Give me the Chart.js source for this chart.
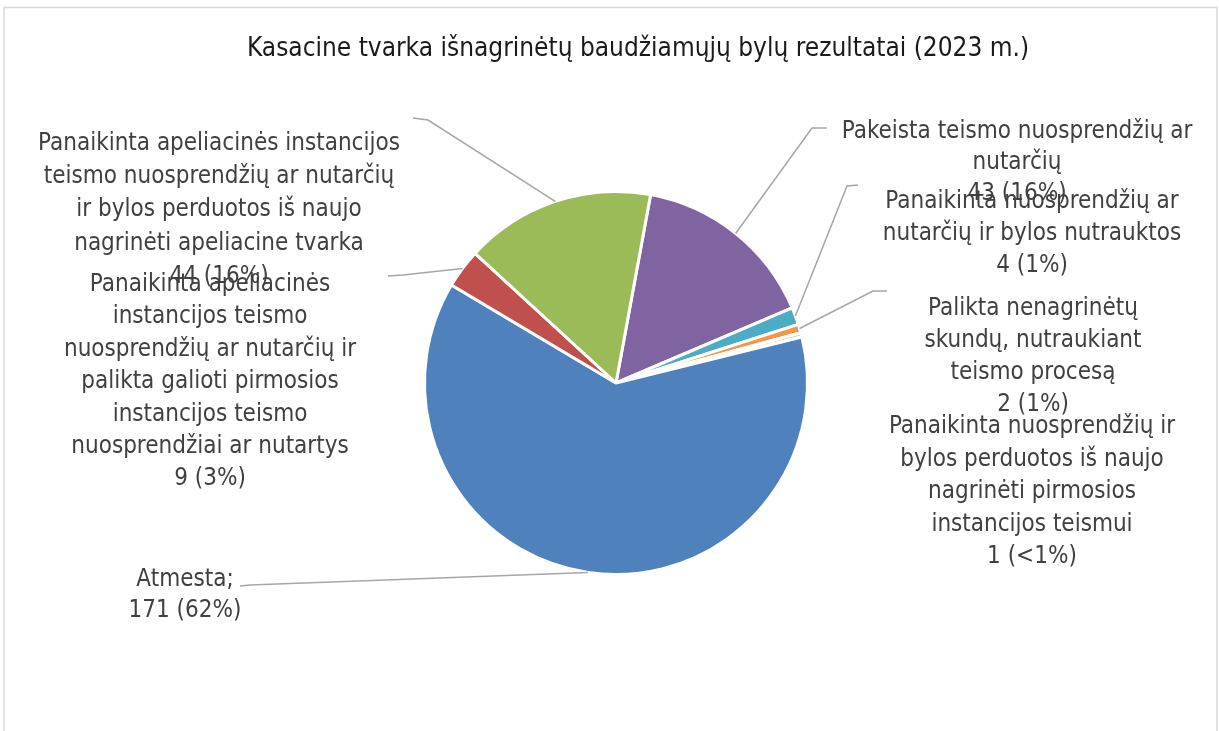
<!DOCTYPE html>
<html>
<head>
<meta charset="utf-8">
<script src="https://cdn.jsdelivr.net/npm/chart.js@4"></script>
<style>
html,body{margin:0;padding:0;background:#fff;}
canvas{display:block;}
</style>
</head>
<body>
<canvas id="c" width="1219" height="731"></canvas>
<script>
const TITLE = 'Kasacine tvarka išnagrinėtų baudžiamųjų bylų rezultatai (2023 m.)';
const categories = [
  'Pakeista teismo nuosprendžių ar nutarčių',
  'Panaikinta nuosprendžių ar nutarčių ir bylos nutrauktos',
  'Palikta nenagrinėtų skundų, nutraukiant teismo procesą',
  'Panaikinta nuosprendžių ir bylos perduotos iš naujo nagrinėti pirmosios instancijos teismui',
  'Atmesta',
  'Panaikinta apeliacinės instancijos teismo nuosprendžių ar nutarčių ir palikta galioti pirmosios instancijos teismo nuosprendžiai ar nutartys',
  'Panaikinta apeliacinės instancijos teismo nuosprendžių ar nutarčių ir bylos perduotos iš naujo nagrinėti apeliacine tvarka'
];
const values = [43, 4, 2, 1, 171, 9, 44];
const percentLabels = ['16%', '1%', '1%', '<1%', '62%', '3%', '16%'];
const labelLines = [
  ['Pakeista teismo nuosprendžių ar', 'nutarčių'],
  ['Panaikinta nuosprendžių ar', 'nutarčių ir bylos nutrauktos'],
  ['Palikta nenagrinėtų', 'skundų, nutraukiant', 'teismo procesą'],
  ['Panaikinta nuosprendžių ir', 'bylos perduotos iš naujo', 'nagrinėti pirmosios', 'instancijos teismui'],
  ['Atmesta;'],
  ['Panaikinta apeliacinės', 'instancijos teismo', 'nuosprendžių ar nutarčių ir', 'palikta galioti pirmosios', 'instancijos teismo', 'nuosprendžiai ar nutartys'],
  ['Panaikinta apeliacinės instancijos', 'teismo nuosprendžių ar nutarčių', 'ir bylos perduotos iš naujo', 'nagrinėti apeliacine tvarka']
];
const colors = ['#8064A2', '#4BACC6', '#F79646', '#C6D9F1', '#4F81BD', '#C0504D', '#9BBB59'];

// layout of label blocks: center x, first baseline y, line height
const labelPos = [
  {x: 1017, y: 138, lh: 31}, {x: 1032, y: 208, lh: 32}, {x: 1033, y: 315, lh: 32}, {x: 1032, y: 433, lh: 32.5},
  {x: 185, y: 586, lh: 31}, {x: 210, y: 291, lh: 32.4}, {x: 219, y: 150, lh: 33.2}
];
// leader line bend + end points (layout), null = no leader
const leaders = [
  [[812, 128], [827, 128]],
  [[847, 186], [858, 185]],
  [[873, 291], [887, 291]],
  null,
  [[250, 585], [240, 586]],
  [[403, 275], [388, 276]],
  [[428, 120], [413, 118]]
];
const FONT_FAMILY = '"Liberation Sans Narrow", "DejaVu Sans Condensed", "Liberation Sans", sans-serif';

const labelsPlugin = {
  id: 'excelLabels',
  beforeDraw(chart) {
    const ctx = chart.ctx;
    ctx.save();
    ctx.fillStyle = '#ffffff';
    ctx.fillRect(0, 0, chart.width, chart.height);
    ctx.strokeStyle = '#d9d9d9';
    ctx.lineWidth = 1.5;
    ctx.strokeRect(4, 7.5, 1213, 740);
    ctx.restore();
  },
  afterDraw(chart) {
    const ctx = chart.ctx;
    const meta = chart.getDatasetMeta(0);
    ctx.save();
    // title
    ctx.fillStyle = '#1a1a1a';
    ctx.font = '26px ' + FONT_FAMILY;
    ctx.textAlign = 'center';
    ctx.textBaseline = 'alphabetic';
    ctx.fillText(TITLE, 638, 56);
    // leader lines
    ctx.strokeStyle = '#a6a6a6';
    ctx.lineWidth = 1.5;
    meta.data.forEach((arc, i) => {
      const L = leaders[i];
      if (!L) return;
      const p = arc.getProps(['x', 'y', 'startAngle', 'endAngle', 'outerRadius'], true);
      const mid = (p.startAngle + p.endAngle) / 2;
      const r = p.outerRadius;
      const sx = p.x + Math.cos(mid) * r;
      const sy = p.y + Math.sin(mid) * r;
      ctx.beginPath();
      ctx.moveTo(sx, sy);
      ctx.lineTo(L[0][0], L[0][1]);
      ctx.lineTo(L[1][0], L[1][1]);
      ctx.stroke();
    });
    // labels
    ctx.fillStyle = '#404040';
    ctx.font = '24px ' + FONT_FAMILY;
    ctx.textAlign = 'center';
    labelLines.forEach((lines, i) => {
      const pos = labelPos[i];
      const all = lines.concat([values[i] + ' (' + percentLabels[i] + ')']);
      all.forEach((t, k) => ctx.fillText(t, pos.x, pos.y + k * pos.lh));
    });
    ctx.restore();
  }
};

new Chart(document.getElementById('c'), {
  type: 'pie',
  data: {
    labels: categories,
    datasets: [{
      data: values,
      backgroundColor: colors,
      borderColor: '#ffffff',
      borderWidth: 3
    }]
  },
  options: {
    responsive: false,
    animation: false,
    rotation: 10.4,
    layout: {padding: {left: 423, right: 410, top: 190, bottom: 155}},
    plugins: {legend: {display: false}, tooltip: {enabled: false}, title: {display: false}}
  },
  plugins: [labelsPlugin]
});
</script>
</body>
</html>
